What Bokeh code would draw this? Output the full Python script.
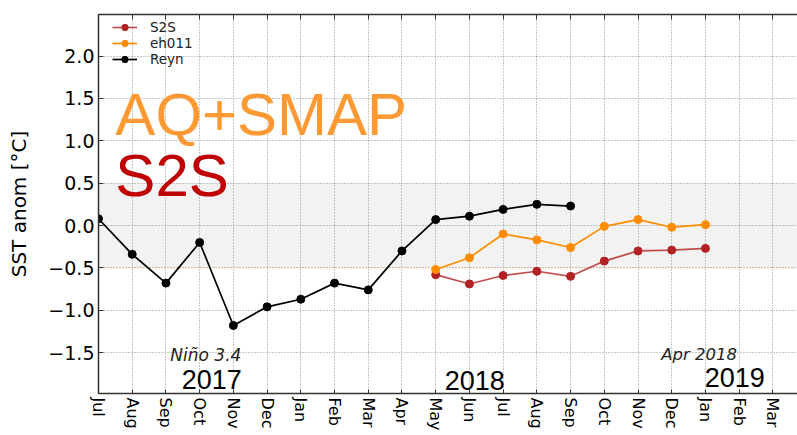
from bokeh.plotting import figure
from bokeh.models import (Range1d, FixedTicker, LinearAxis, BoxAnnotation, Span,
                          Label, Legend, LegendItem)
from bokeh.embed import file_html
from bokeh.resources import INLINE

# ---- data ----
month_labels = ["Jul", "Aug", "Sep", "Oct", "Nov", "Dec", "Jan", "Feb", "Mar", "Apr",
                "May", "Jun", "Jul", "Aug", "Sep", "Oct", "Nov", "Dec", "Jan", "Feb", "Mar"]
month_index = list(range(len(month_labels)))

reyn_month = month_index[0:15]
reyn_vals = [0.08, -0.34, -0.68, -0.20, -1.18, -0.96, -0.87, -0.68, -0.76, -0.30,
             0.07, 0.11, 0.19, 0.25, 0.23]

fc_month = month_index[10:19]
eh011_vals = [-0.52, -0.38, -0.10, -0.17, -0.26, -0.01, 0.07, -0.02, 0.01]
s2s_vals = [-0.58, -0.69, -0.59, -0.54, -0.60, -0.42, -0.30, -0.29, -0.27]

y_ticks = [-1.5, -1.0, -0.5, 0.0, 0.5, 1.0, 1.5, 2.0]
y_tick_labels = ["\u22121.5", "\u22121.0", "\u22120.5", "0.0", "0.5", "1.0", "1.5", "2.0"]

# ---- figure ----
p = figure(width=797, height=435, output_backend="svg", toolbar_location=None,
           x_range=Range1d(0, 20.73), y_range=Range1d(-1.983, 2.491),
           min_border_left=98, min_border_right=0, min_border_top=14, min_border_bottom=42,
           background_fill_color="white", border_fill_color="white")
p.outline_line_color = None

# band
band = BoxAnnotation(bottom=-0.5, top=0.5, fill_color="#f2f2f2", fill_alpha=1.0,
                     line_color=None, level="image")
p.add_layout(band)
p.add_layout(Span(location=-0.5, dimension="width", line_color="#ffb870",
                  line_dash="1 2", line_width=1.2, line_alpha=0.8, level="underlay"))

# axes
xa = p.xaxis[0]
xa.ticker = FixedTicker(ticks=month_index)
xa.major_label_overrides = {i: lab for i, lab in zip(month_index, month_labels)}
xa.major_label_orientation = "vertical"
xa.major_label_text_font = "DejaVu Sans"
xa.major_label_text_font_size = "16px"
xa.major_label_text_color = "black"
xa.major_label_standoff = 4
xa.major_tick_in = 4
xa.major_tick_out = 0
xa.minor_tick_line_color = None
xa.axis_line_color = "#333333"
xa.axis_line_width = 1.5
xa.major_tick_line_color = "#333333"

ya = p.yaxis[0]
ya.ticker = FixedTicker(ticks=y_ticks)
ya.major_label_overrides = {t: lab for t, lab in zip(y_ticks, y_tick_labels)}
ya.major_label_text_font = "DejaVu Sans"
ya.major_label_text_font_size = "19px"
ya.major_label_text_color = "black"
ya.major_label_standoff = 4
ya.major_tick_in = 5
ya.major_tick_out = 0
ya.minor_tick_line_color = None
ya.axis_line_color = "#333333"
ya.axis_line_width = 1.5
ya.major_tick_line_color = "#333333"
ya.axis_label = "SST anom [\u00b0C]"
ya.axis_label_text_font = "DejaVu Sans"
ya.axis_label_text_font_size = "20px"
ya.axis_label_text_font_style = "normal"
ya.axis_label_text_color = "black"
ya.axis_label_standoff = 14

top_axis = LinearAxis(ticker=FixedTicker(ticks=month_index),
                      major_label_overrides={i: "" for i in month_index},
                      major_label_text_font_size="8px", major_label_standoff=0,
                      major_tick_in=5, major_tick_out=0, minor_tick_line_color=None,
                      axis_line_color="#333333", axis_line_width=1.5,
                      major_tick_line_color="#333333")
p.add_layout(top_axis, "above")

# grid
for g in (p.xgrid[0], p.ygrid[0]):
    g.grid_line_color = "#8f8f8f"
    g.grid_line_dash = "1 2"
    g.grid_line_width = 1

# series
red = "#b22222"
orange = "#ff8c00"
l_s2s = p.line(fc_month, s2s_vals, line_color=red, line_width=1.7, line_alpha=0.8)
c_s2s = p.scatter(fc_month, s2s_vals, size=8, fill_color=red, line_color=red)
l_eh = p.line(fc_month, eh011_vals, line_color=orange, line_width=1.7)
c_eh = p.scatter(fc_month, eh011_vals, size=8, fill_color=orange, line_color=orange)
l_re = p.line(reyn_month, reyn_vals, line_color="black", line_width=1.7)
c_re = p.scatter(reyn_month, reyn_vals, size=8, fill_color="black", line_color="black")

legend = Legend(items=[LegendItem(label="S2S", renderers=[l_s2s, c_s2s]),
                       LegendItem(label="eh011", renderers=[l_eh, c_eh]),
                       LegendItem(label="Reyn", renderers=[l_re, c_re])],
                location=(12, 324), padding=2, margin=0, spacing=0,
                glyph_width=25, glyph_height=16, label_height=16, label_standoff=13,
                label_text_font="DejaVu Sans", label_text_font_size="13.5px",
                label_text_color="#222222",
                background_fill_alpha=0, border_line_alpha=0)
p.add_layout(legend)

# annotations
p.add_layout(Label(x=0.5, y=1.31, text="AQ+SMAP", text_font="Liberation Sans",
                   text_font_size="60px", text_color="#ff9933", text_baseline="alphabetic"))
p.add_layout(Label(x=0.5, y=0.59, text="S2S", text_font="Liberation Sans",
                   text_font_size="60px", text_color="#c00000", text_baseline="alphabetic"))
p.add_layout(Label(x=2.13, y=-1.525, text="Ni\u00f1o 3.4", text_font="DejaVu Sans",
                   text_font_style="italic", text_font_size="17px", text_color="#222222",
                   text_baseline="alphabetic"))
p.add_layout(Label(x=16.69, y=-1.527, text="Apr 2018", text_font="DejaVu Sans",
                   text_font_style="italic", text_font_size="16.5px", text_color="#222222",
                   text_baseline="alphabetic"))
p.add_layout(Label(x=2.47, y=-1.812, text="2017", text_font="Liberation Sans",
                   text_font_size="27px", text_color="black", text_baseline="alphabetic"))
p.add_layout(Label(x=10.27, y=-1.83, text="2018", text_font="Liberation Sans",
                   text_font_size="27px", text_color="black", text_baseline="alphabetic"))
p.add_layout(Label(x=17.98, y=-1.80, text="2019", text_font="Liberation Sans",
                   text_font_size="27px", text_color="black", text_baseline="alphabetic"))

open("out.html", "w").write(file_html(p, INLINE))
